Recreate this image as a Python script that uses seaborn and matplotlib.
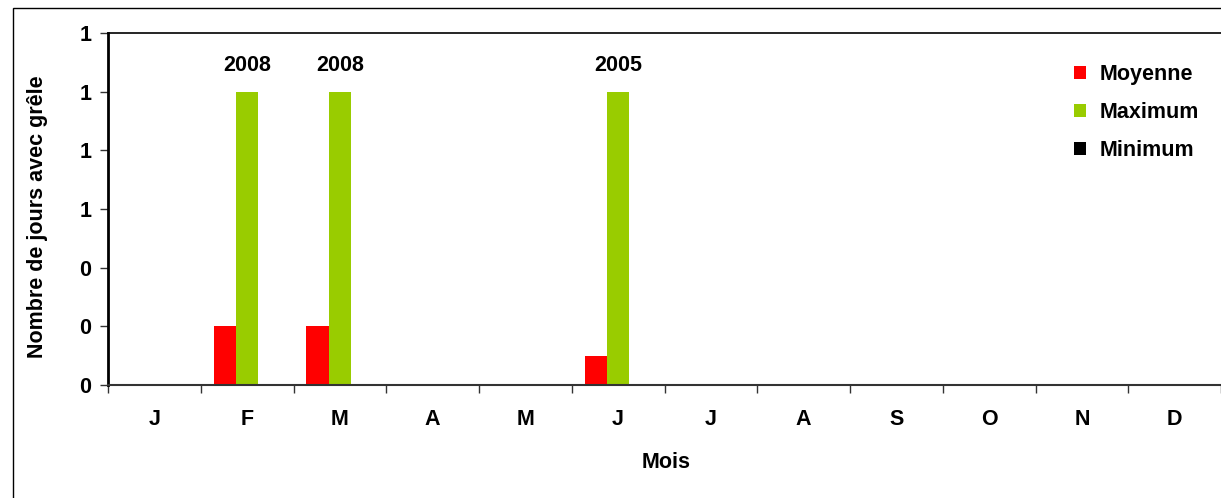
import numpy as np
import pandas as pd
import matplotlib
matplotlib.use("Agg")
import matplotlib.pyplot as plt
from matplotlib.ticker import FixedLocator, FormatStrFormatter, NullFormatter
from matplotlib.patches import Rectangle
import seaborn as sns

# Monthly hail-day statistics
mois = ["J", "F", "M", "A", "M", "J", "J", "A", "S", "O", "N", "D"]
moyenne = [0, 0.2, 0.2, 0, 0, 0.1, 0, 0, 0, 0, 0, 0]
maximum = [0, 1, 1, 0, 0, 1, 0, 0, 0, 0, 0, 0]
minimum = [0, 0, 0, 0, 0, 0, 0, 0, 0, 0, 0, 0]
annee_max = ["", "2008", "2008", "", "", "2005", "", "", "", "", "", ""]
series = ["Moyenne", "Maximum", "Minimum"]
couleurs = ["#FF0000", "#99CC00", "#000000"]
yticks = [0, 0.2, 0.4, 0.6, 0.8, 1.0, 1.2]

sns.set_theme(style="white")
plt.rcParams["font.family"] = ["Liberation Sans", "DejaVu Sans"]
plt.rcParams["font.weight"] = "bold"
for key in ["text.color", "axes.labelcolor", "xtick.color", "ytick.color"]:
    plt.rcParams[key] = "black"

FS = 15.5

df = pd.DataFrame({
    "mois_idx": np.tile(np.arange(len(mois)), len(series)),
    "valeur": moyenne + maximum + minimum,
    "serie": np.repeat(series, len(mois)),
})

W, H = 1221, 498
fig = plt.figure(figsize=(W / 100, H / 100), dpi=100)
ax = fig.add_axes([108 / W, 113 / H, 1113 / W, 352 / H])

sns.barplot(data=df, x="mois_idx", y="valeur", hue="serie", hue_order=series,
            palette=couleurs, width=0.72, saturation=1, errorbar=None,
            linewidth=0, ax=ax)

# year of the maximum above each maximum bar
for i, txt in enumerate(annee_max):
    if txt:
        ax.annotate(txt, xy=(i, maximum[i]), xytext=(0, 26 * 0.72),
                    textcoords="offset points", ha="center", va="center",
                    fontsize=FS, fontweight="bold", color="black")

ax.set_xlim(-0.5, len(mois) - 0.5)
ax.set_ylim(0, 1.2)
ax.yaxis.set_major_locator(FixedLocator(yticks))
ax.yaxis.set_major_formatter(FormatStrFormatter("%.0f"))
ax.tick_params(axis="y", which="major", length=6, width=1, color="#333333",
               pad=6, labelsize=FS, left=True)

# category boundaries as ticks, month letters centred between them
ax.xaxis.set_major_locator(FixedLocator(np.arange(-0.5, len(mois), 1.0)))
ax.xaxis.set_major_formatter(NullFormatter())
ax.xaxis.set_minor_locator(FixedLocator(np.arange(len(mois))))
ax.set_xticklabels(mois, minor=True)
ax.tick_params(axis="x", which="major", length=6, width=1, color="#333333",
               bottom=True)
ax.tick_params(axis="x", which="minor", length=0, pad=17, labelsize=FS)

ax.set_xlabel("")
ax.set_ylabel("")
for side in ["left", "top", "bottom"]:
    ax.spines[side].set_visible(True)
    ax.spines[side].set_color("black")
ax.spines["left"].set_linewidth(2)
ax.spines["top"].set_linewidth(1.2)
ax.spines["bottom"].set_linewidth(1.5)
ax.spines["bottom"].set_color("#333333")
ax.spines["right"].set_visible(False)

fig.text(38 / W, 1 - 217 / H, "Nombre de jours avec grêle", rotation=90,
         ha="center", va="center", fontsize=FS, fontweight="bold")
fig.text(666 / W, 1 - 462 / H, "Mois", ha="center", va="center",
         fontsize=FS, fontweight="bold")

leg = ax.legend(loc="upper left", bbox_to_anchor=(1055 / W, 1 - 45 / H),
                bbox_transform=fig.transFigure, frameon=False,
                handlelength=0.55, handleheight=0.55, handletextpad=0.6,
                labelspacing=0.78, fontsize=FS)

# outer frame of the chart area
fig.patches.append(Rectangle((13 / W, -0.1), 1.2, (H - 8) / H + 0.1,
                             transform=fig.transFigure, fill=False,
                             edgecolor="black", linewidth=1))

fig.savefig("out.png", dpi=100)
